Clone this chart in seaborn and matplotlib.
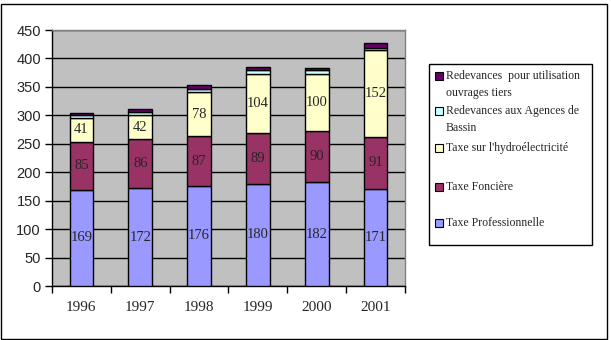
import matplotlib
matplotlib.use("Agg")
import matplotlib.pyplot as plt
import seaborn as sns
import numpy as np
import pandas as pd
from matplotlib.patches import Rectangle

years = ["1996", "1997", "1998", "1999", "2000", "2001"]
taxe_pro = [169, 172, 176, 180, 182, 171]
taxe_fonciere = [85, 86, 87, 89, 90, 91]
taxe_hydro = [41, 42, 78, 104, 100, 152]
redev_agences = [5, 5, 6, 7, 7, 5]
redev_ouvrages = [4, 7, 6, 5, 5, 8]

series = [
    ("Taxe Professionnelle", taxe_pro, "#9999FF", True),
    ("Taxe Foncière", taxe_fonciere, "#993366", True),
    ("Taxe sur l'hydroélectricité", taxe_hydro, "#FFFFCC", True),
    ("Redevances aux Agences de\nBassin", redev_agences, "#CCFFFF", False),
    ("Redevances  pour utilisation\nouvrages tiers", redev_ouvrages, "#660066", False),
]

sns.set_style("white")
plt.rcParams["font.family"] = ["Liberation Serif", "DejaVu Serif"]

W, H = 611, 340
fig = plt.figure(figsize=(W / 100, H / 100), dpi=100)
ax = fig.add_axes([52 / W, 1 - 286 / H, 353 / W, 256 / H])
ax.set_facecolor("#C0C0C0")

bottom = np.zeros(len(years))
for name, vals, color, labelled in series:
    df = pd.DataFrame({"year": years, "value": vals})
    sns.barplot(data=df, x="year", y="value", ax=ax, color=color,
                bottom=bottom, width=0.4, edgecolor="black", linewidth=1,
                saturation=1, zorder=3)
    if labelled:
        for i, v in enumerate(vals):
            ax.text(i, bottom[i] + v / 2, str(v), ha="center", va="center",
                    fontsize=10.5, zorder=4)
    bottom = bottom + np.array(vals)

ax.set_ylim(0, 450)
ax.set_xlim(-0.5, 5.5)
ax.set_yticks(range(0, 451, 50))
ax.yaxis.grid(True, color="black", linewidth=1, zorder=0)
ax.set_axisbelow(True)
ax.set_xlabel("")
ax.set_ylabel("")

for lab in ax.get_yticklabels():
    lab.set_fontfamily(["Liberation Sans", "DejaVu Sans"])
    lab.set_fontsize(10.5)
for lab in ax.get_xticklabels():
    lab.set_fontsize(11)

ax.tick_params(axis="y", which="major", direction="out", length=5, width=1,
               color="black", left=True, pad=3)
ax.tick_params(axis="x", which="major", length=0, pad=11)
ax.set_xticks(np.arange(-0.5, 6, 1), minor=True)
ax.tick_params(axis="x", which="minor", direction="out", length=5, width=1,
               color="black", bottom=True)

for side in ["left", "bottom"]:
    ax.spines[side].set_color("black")
    ax.spines[side].set_linewidth(1)
for side in ["right", "top"]:
    ax.spines[side].set_color("#808080")
    ax.spines[side].set_linewidth(1)


# Legend drawn in pixel coordinates of the figure, top to bottom
def fx(px):
    return px / W


def fy(py):
    return 1 - py / H


fig.patches.append(Rectangle((fx(429), fy(245)), (592 - 429) / W, (245 - 64) / H,
                             transform=fig.transFigure, facecolor="white",
                             edgecolor="black", linewidth=1))
entry_y = [76, 111, 148, 187, 223]
line_step = 17
for (name, vals, color, labelled), py in zip(series[::-1], entry_y):
    fig.patches.append(Rectangle((fx(435), fy(py + 4)), 8 / W, 8 / H,
                                 transform=fig.transFigure, facecolor=color,
                                 edgecolor="black", linewidth=0.8, zorder=5))
    for k, line in enumerate(name.split("\n")):
        fig.text(fx(446), fy(py + k * line_step), line, ha="left",
                 va="center", fontsize=8.5, zorder=5)

fig.patches.append(Rectangle((1 / W, 1 / H), 606 / W, 335 / H,
                             transform=fig.transFigure, fill=False,
                             edgecolor="black", linewidth=1))

fig.savefig("out.png", dpi=100)
